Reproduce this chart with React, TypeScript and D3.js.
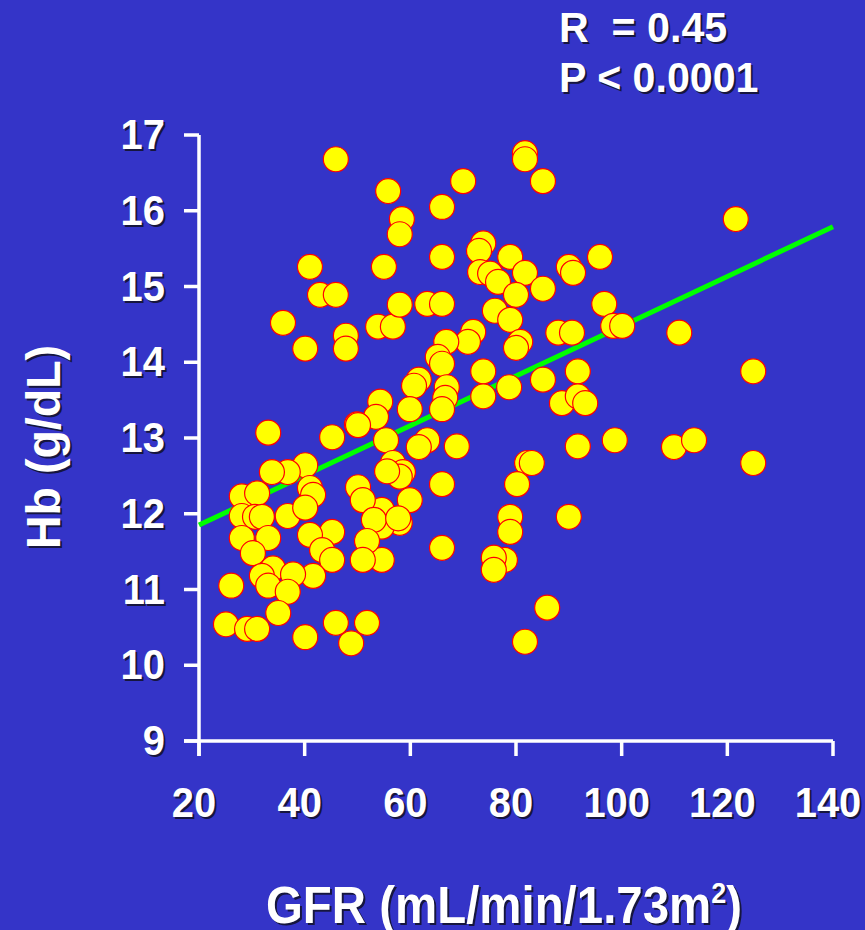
import React from "react";
import * as d3 from "d3";

const gfr: number[] = [
  45.9, 55.8, 58.4, 58.0, 66.0, 70.0, 81.7, 81.7, 85.1, 121.6,
  41.0, 55.0, 66.0, 42.9, 45.9, 35.9, 47.8, 47.8, 40.1, 53.9,
  56.7, 58.0, 63.2, 66.0, 73.8, 73.0, 78.9, 73.2, 75.1, 81.7,
  76.6, 80.0, 85.1, 90.0, 90.8, 95.9, 96.7, 76.0, 78.9, 88.0,
  90.6, 98.4, 100.1, 71.9, 70.9, 80.8, 80.0, 66.8, 65.2, 66.0,
  73.8, 61.6, 60.7, 66.9, 66.6, 66.0, 59.9, 73.8, 78.7, 85.1,
  91.7, 88.7, 91.7, 93.1, 54.3, 53.5, 49.9, 55.4, 63.2, 68.8,
  91.7, 98.7, 110.9, 124.9, 109.9, 113.7, 124.9, 61.6, 56.7, 58.6,
  58.0, 55.6, 59.9, 58.0, 54.6, 54.6, 66.0, 66.0, 54.6, 82.1,
  83.0, 80.2, 78.9, 78.9, 77.9, 75.8, 75.8, 90.0, 85.9, 81.7,
  33.1, 45.2, 50.1, 40.1, 36.8, 33.8, 41.0, 41.6, 28.1, 31.0,
  28.1, 30.6, 31.9, 36.8, 40.1, 45.2, 28.1, 33.1, 30.2, 41.0,
  43.3, 45.2, 41.6, 34.0, 31.9, 33.1, 37.8, 36.8, 26.1, 35.0,
  25.1, 29.1, 31.0, 40.1, 45.9, 51.8, 48.8, 50.1, 51.0, 53.1,
  57.7, 51.8, 51.0,
];

const hb: number[] = [
  16.68, 16.26, 15.89, 15.69, 16.05, 16.39, 16.76, 16.68, 16.39, 15.89,
  15.26, 15.26, 15.39, 14.89, 14.89, 14.52, 14.35, 14.18, 14.18, 14.47,
  14.47, 14.76, 14.77, 14.77, 15.57, 15.47, 15.39, 15.19, 15.17, 15.18,
  15.06, 14.89, 14.97, 15.26, 15.18, 15.39, 14.77, 14.68, 14.56, 14.39,
  14.39, 14.48, 14.48, 14.4, 14.27, 14.27, 14.19, 14.27, 14.07, 13.98,
  13.88, 13.77, 13.69, 13.67, 13.53, 13.38, 13.38, 13.55, 13.67, 13.77,
  13.88, 13.46, 13.55, 13.46, 13.48, 13.28, 13.18, 12.97, 12.97, 12.89,
  12.89, 12.97, 14.39, 13.88, 12.88, 12.97, 12.67, 12.88, 12.67, 12.55,
  12.49, 12.56, 12.18, 11.88, 12.05, 11.83, 12.39, 11.55, 11.39, 12.67,
  12.67, 12.39, 11.96, 11.76, 11.39, 11.42, 11.26, 11.96, 10.76, 10.31,
  13.07, 13.01, 13.17, 12.64, 12.55, 12.55, 12.34, 12.25, 12.23, 12.27,
  11.97, 11.96, 11.96, 11.97, 12.08, 11.76, 11.68, 11.68, 11.48, 11.72,
  11.52, 11.39, 11.18, 11.28, 11.18, 11.05, 11.2, 10.97, 11.05, 10.69,
  10.54, 10.48, 10.48, 10.37, 10.56, 10.56, 10.29, 12.35, 12.18, 11.92,
  11.94, 11.64, 11.39,
];

const fitGfr: number[] = [20, 140];
const fitHb: number[] = [11.85, 15.79];

const xTicks: number[] = [20, 40, 60, 80, 100, 120, 140];
const yTicks: number[] = [9, 10, 11, 12, 13, 14, 15, 16, 17];

const statLines: string[] = ["R  = 0.45", "P < 0.0001"];
const xTitle = "GFR (mL/min/1.73m";
const yTitle = "Hb (g/dL)";

const W = 865;
const H = 930;
const FONT = "'Liberation Sans', Arial, sans-serif";
const BG = "#3434C8";

function ShadowText(props: any) {
  const { x, y, sx = 1, rot = 0, children, ...rest } = props;
  const tf = (dx: number, dy: number) =>
    `translate(${x + dx},${y + dy}) rotate(${rot}) scale(${sx},1)`;
  return (
    <g>
      <text transform={tf(rot ? 2 : 2, rot ? 2 : 2)} fill="#16163e" {...rest}>
        {children}
      </text>
      <text transform={tf(0, 0)} fill="#ffffff" {...rest}>
        {children}
      </text>
    </g>
  );
}

export default function App() {
  const x = d3.scaleLinear().domain([20, 140]).range([199, 833]);
  const y = d3.scaleLinear().domain([9, 17]).range([741, 135]);
  const line = d3
    .line<number>()
    .x((d) => x(fitGfr[d]))
    .y((d) => y(fitHb[d]));
  const pts = gfr.map((g, i) => ({ g, h: hb[i] }));
  const tick = 15;
  const x0 = x(20);
  const y0 = y(9);

  return (
    <svg
      width={W}
      height={H}
      style={{ position: "absolute", left: 0, top: 0, display: "block" }}
      fontFamily={FONT}
      fontWeight="bold"
    >
      <rect x={0} y={0} width={W} height={H} fill={BG} />

      {/* axes */}
      <g stroke="#ffffff" strokeWidth={3.5} fill="none">
        <line x1={x0} y1={y(17)} x2={x0} y2={y0 + tick} />
        <line x1={x0 - tick} y1={y0} x2={x(140)} y2={y0} />
        {yTicks.map((t) => (
          <line key={"yt" + t} x1={x0 - tick} y1={y(t)} x2={x0} y2={y(t)} />
        ))}
        {xTicks.map((t) => (
          <line key={"xt" + t} x1={x(t)} y1={y0} x2={x(t)} y2={y0 + tick} />
        ))}
      </g>

      {/* y tick labels */}
      {yTicks.map((t) => (
        <ShadowText
          key={"yl" + t}
          x={x0 - 34}
          y={y(t) + 14}
          sx={0.95}
          fontSize={42}
          textAnchor="end"
        >
          {t}
        </ShadowText>
      ))}

      {/* x tick labels */}
      {xTicks.map((t) => (
        <ShadowText
          key={"xl" + t}
          x={x(t) - 5}
          y={y0 + 76}
          sx={0.95}
          fontSize={42}
          textAnchor="middle"
        >
          {t}
        </ShadowText>
      ))}

      {/* regression line */}
      <path
        d={line([0, 1]) || ""}
        stroke="#00ff00"
        strokeWidth={5}
        fill="none"
      />

      {/* points */}
      {pts.map((p, i) => (
        <circle
          key={"p" + i}
          cx={x(p.g)}
          cy={y(p.h)}
          r={12.5}
          fill="#ffff00"
          stroke="#ff0000"
          strokeWidth={1.2}
        />
      ))}

      {/* axis titles */}
      <ShadowText x={504} y={923} sx={0.93} fontSize={51} textAnchor="middle">
        {xTitle}
        <tspan dy={-20} fontSize={29}>2</tspan>
        <tspan dy={20}>)</tspan>
      </ShadowText>
      <ShadowText
        x={60}
        y={447}
        rot={-90}
        sx={0.95}
        fontSize={49}
        textAnchor="middle"
      >
        {yTitle}
      </ShadowText>

      {/* stats */}
      {statLines.map((s, i) => (
        <ShadowText
          key={"s" + i}
          x={559}
          y={42 + i * 50}
          sx={0.98}
          fontSize={42}
          textAnchor="start"
          style={{ whiteSpace: "pre" }}
        >
          {s}
        </ShadowText>
      ))}
    </svg>
  );
}
